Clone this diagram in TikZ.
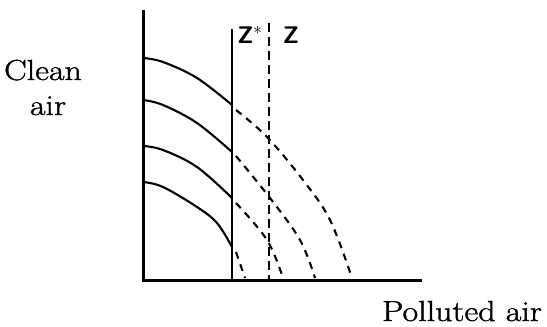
\documentclass[tikz,border=0pt]{standalone}
\usepackage{fontspec}
\newfontfamily\lblfont{Latin Modern Roman}[FakeStretch=1.17,FakeBold=1.3]
\begin{document}
\begin{tikzpicture}[x=1pt,y=-1pt,
  axis/.style={line width=3pt},
  solidcurve/.style={line width=2.1pt},
  dashcurve/.style={line width=2.1pt,dash pattern=on 7pt off 6pt},
  vline/.style={line width=1.6pt},
  lbl/.style={font=\lblfont\fontsize{29}{34}\selectfont,inner sep=0pt,anchor=base},
  zlbl/.style={font=\sffamily\bfseries\fontsize{24}{28}\selectfont,inner sep=0pt}]
\useasboundingbox (0,0) rectangle (547,327);
\coordinate (top) at (143,10);
\coordinate (o) at (143,280);
\coordinate (xend) at (422,280);
\draw[axis] (top) -- (o) -- (xend);
\coordinate (zs1) at (232,29);
\coordinate (zs0) at (232,280);
\coordinate (z1) at (269,23);
\coordinate (z0) at (269,280);
\draw[vline] (zs1) -- (zs0);
\draw[vline,dash pattern=on 9pt off 5pt] (z1) -- (z0);
% solid curves
\draw[solidcurve] plot[smooth,tension=0.6] coordinates {(143,58) (163,62) (197,78) (232,105)};
\draw[solidcurve] plot[smooth,tension=0.6] coordinates {(143,100) (163,105) (197,123) (232,152)};
\draw[solidcurve] plot[smooth,tension=0.6] coordinates {(143,146) (163,150) (197,167) (232,198)};
\draw[solidcurve] plot[smooth,tension=0.6] coordinates {(143,182) (163,187) (197,207) (217,223) (232,247)};
% dashed continuations
\draw[dashcurve] plot[smooth,tension=0.6] coordinates {(236,110) (267,137) (303,180) (330,220) (352,278)};
\draw[dashcurve] plot[smooth,tension=0.6] coordinates {(236,156) (270,198) (300,240) (315,278)};
\draw[dashcurve] plot[smooth,tension=0.6] coordinates {(236,203) (267,240) (283,278)};
\draw[dashcurve] plot[smooth,tension=0.6] coordinates {(236,252) (245,278)};
% labels
\node[lbl] (clean) at (43,80) {Clean};
\node[lbl] (air) at (48,115) {air};
\node[lbl] (pol) at (462,321) {Polluted air};
\node[zlbl] (zstar) at (250,35) {Z$^{*}$};
\node[zlbl] (z) at (291,35) {Z};
\end{tikzpicture}
\end{document}
